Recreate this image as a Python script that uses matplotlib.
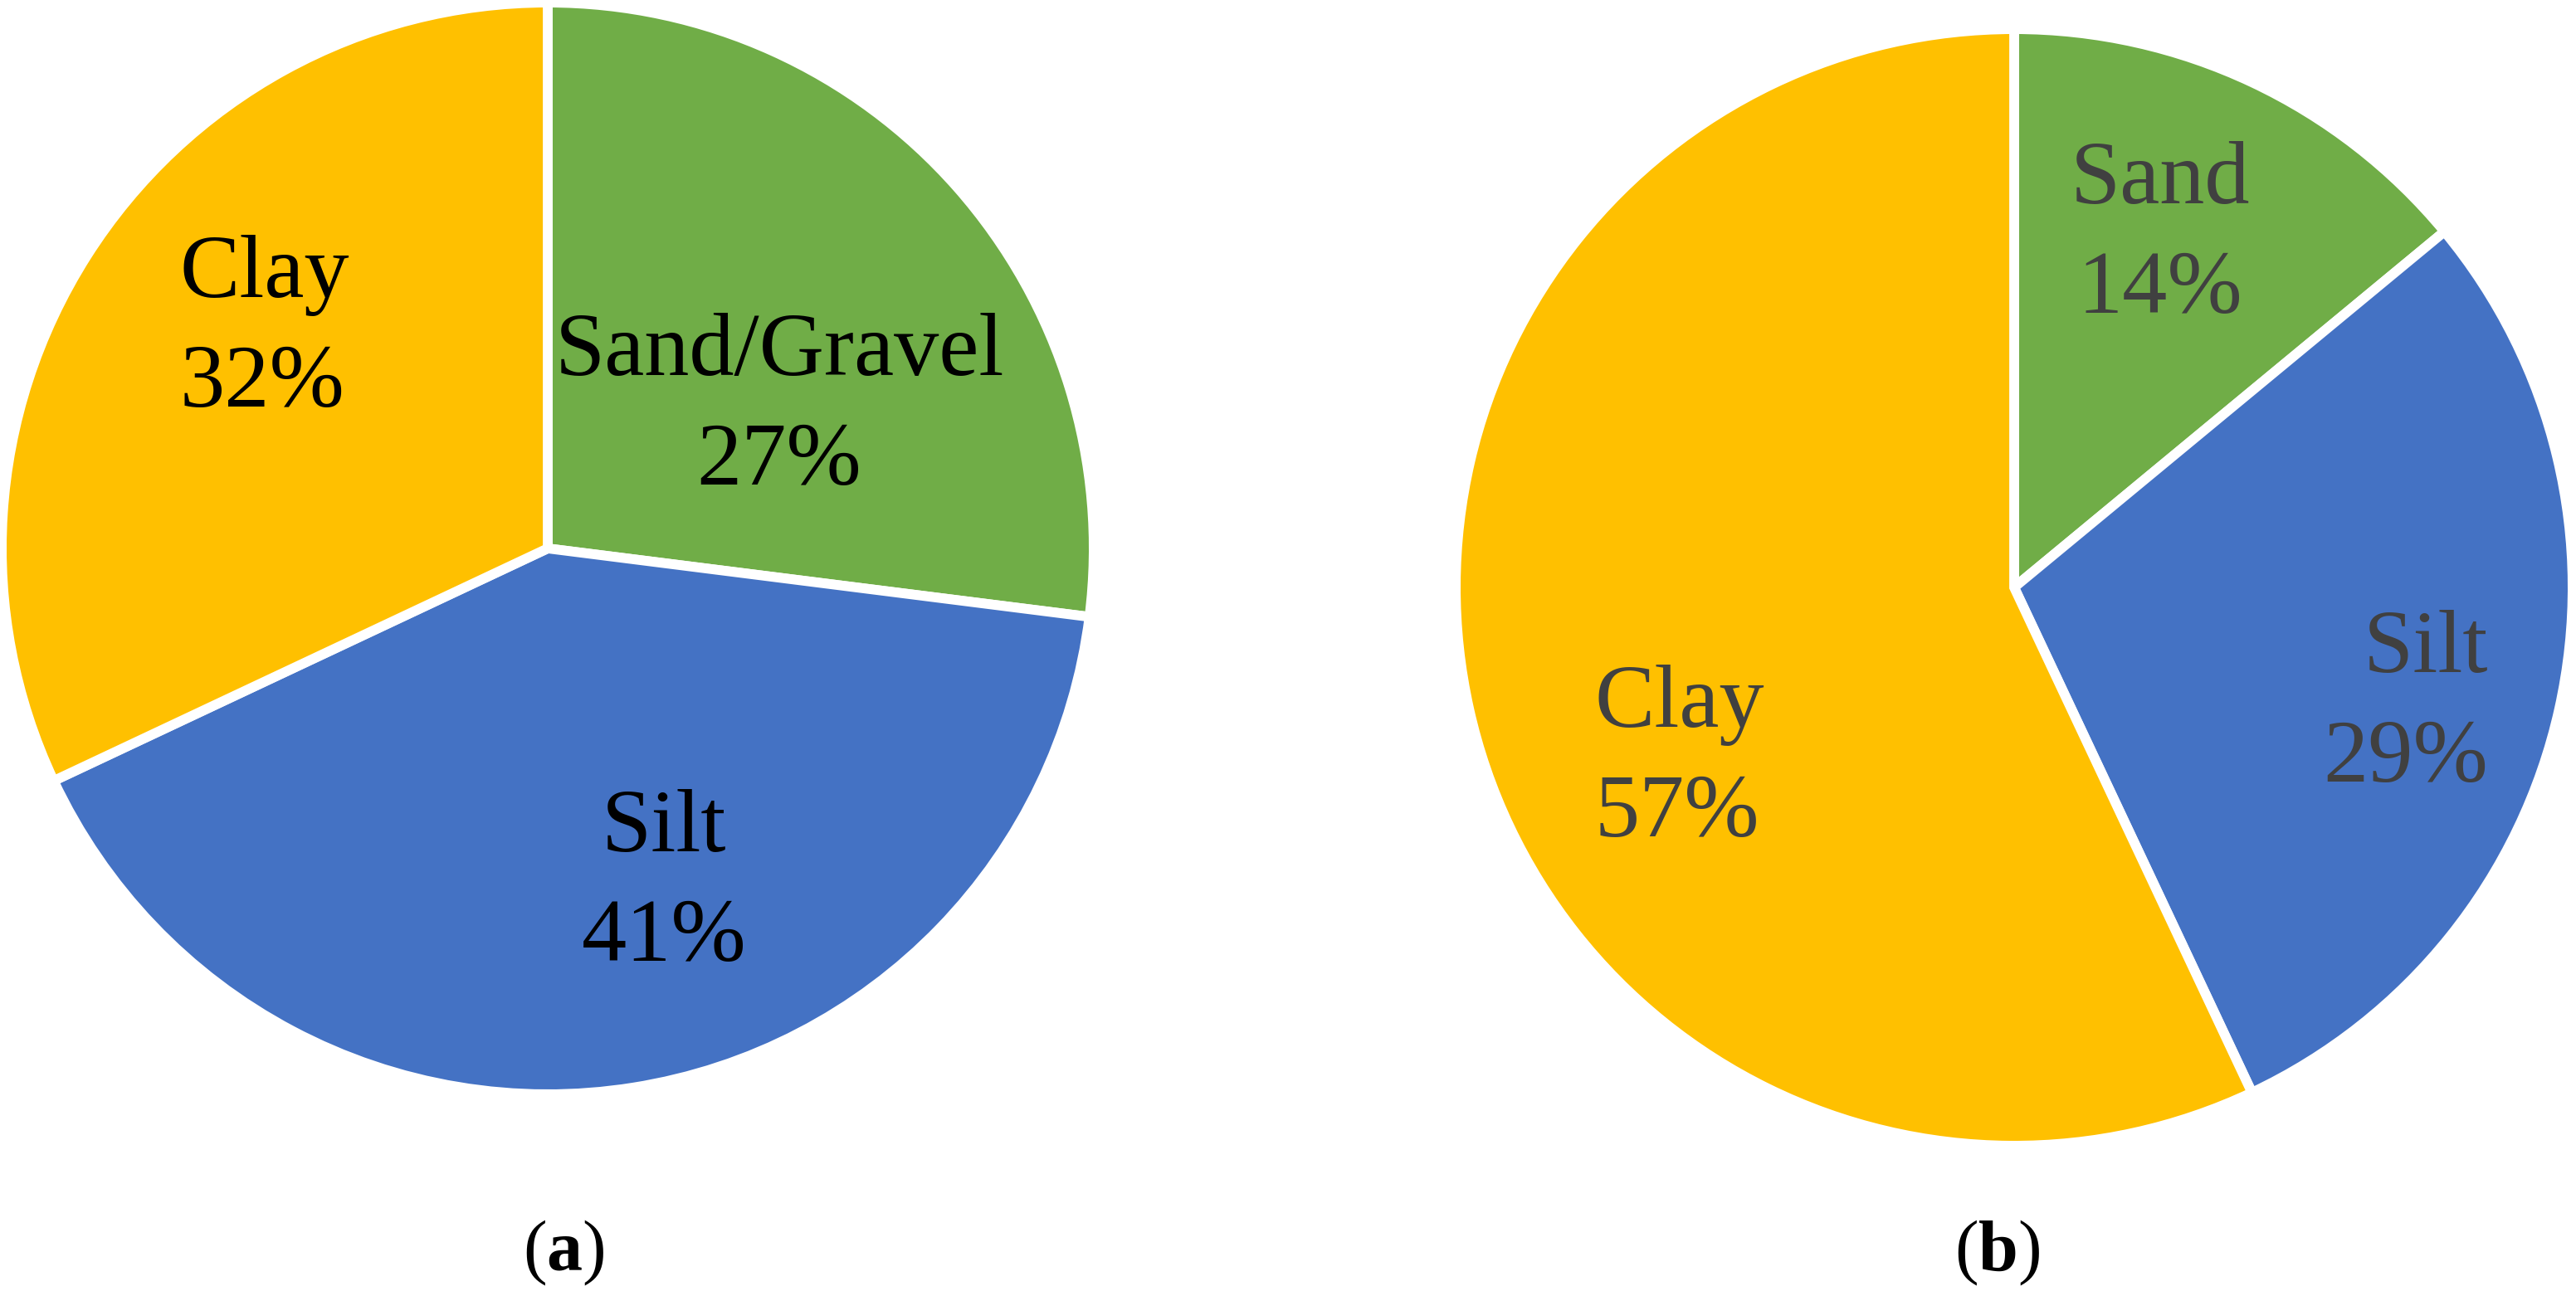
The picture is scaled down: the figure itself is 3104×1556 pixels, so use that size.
import matplotlib
matplotlib.use("Agg")
import matplotlib.pyplot as plt

# ---- data ----
cats_a = ["Sand/Gravel", "Silt", "Clay"]
vals_a = [27, 41, 32]
cats_b = ["Sand", "Silt", "Clay"]
vals_b = [14, 29, 57]
captions = ["a", "b"]

colors = {"Sand/Gravel": "#70AD47", "Sand": "#70AD47", "Silt": "#4472C4", "Clay": "#FFC000"}

plt.rcParams['mathtext.fontset'] = 'custom'
plt.rcParams['mathtext.rm'] = 'Liberation Serif'
plt.rcParams['mathtext.bf'] = 'Liberation Serif:bold'
FONT = 'Liberation Serif'

W, H = 3104, 1556
DPI = 100
fig = plt.figure(figsize=(W / DPI, H / DPI), dpi=DPI)
fig.patch.set_facecolor("white")

LW_PT = 8.5
half_lw_px = LW_PT * DPI / 72 / 2

# layout (pixels): center x, center y, visible radius
layouts = [(660, 661, 652), (2427, 708, 667)]
# label anchor offsets from centre in pixels (dx right, dy up), and alignment
label_pos = [
    [(279, 169, 'center'), (140, -405, 'center'), (-443, 263, 'left')],
    [(176, 423, 'center'), (571, -142, 'right'), (-506, -208, 'left')],
]
label_colors = ["black", "#404040"]
caption_x = [679, 2407]
caption_y = 1510

for i, (cats, vals) in enumerate([(cats_a, vals_a), (cats_b, vals_b)]):
    cx, cy, r = layouts[i]
    R = r + half_lw_px
    ax = fig.add_axes([(cx - R) / W, (H - cy - R) / H, 2 * R / W, 2 * R / H])
    ax.pie(vals, colors=[colors[c] for c in cats], startangle=90, counterclock=False,
           radius=1.0, wedgeprops=dict(edgecolor="white", linewidth=LW_PT))
    ax.set_xlim(-1, 1)
    ax.set_ylim(-1, 1)
    ax.set_axis_off()
    total = sum(vals)
    for (c, v), (dx, dy, ha) in zip(zip(cats, vals), label_pos[i]):
        ax.text(dx / R, dy / R, f"{c}\n{round(100 * v / total)}%", ha=ha, va='center',
                multialignment=ha, fontsize=78, family=FONT, color=label_colors[i],
                linespacing=1.45)
    fig.text(caption_x[i] / W, 1 - caption_y / H, r"($\mathbf{" + captions[i] + r"}$)",
             ha='center', va='center', fontsize=62, family=FONT, color='black')

fig.savefig("out.png", dpi=DPI, facecolor="white")
